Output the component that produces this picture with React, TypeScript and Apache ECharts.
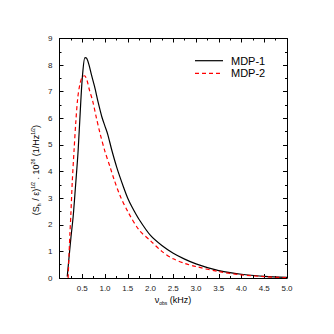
import React, { useEffect, useRef } from "react";
import * as echarts from "echarts";

const mdp1X = [0.17, 0.2, 0.25, 0.3, 0.35, 0.41, 0.47, 0.51, 0.56, 0.6, 0.65, 0.7, 0.77, 0.85, 0.93, 1.0, 1.06, 1.15, 1.26, 1.4, 1.5, 1.6, 1.75, 2.0, 2.25, 2.5, 2.75, 3.0, 3.25, 3.5, 3.75, 4.0, 4.5, 5.0];
const mdp1Y = [0.05, 0.6, 1.5, 2.3, 3.4, 4.8, 6.7, 7.7, 8.28, 8.25, 8.0, 7.65, 7.2, 6.6, 6.06, 5.7, 5.4, 4.8, 4.15, 3.45, 3.0, 2.65, 2.2, 1.6, 1.22, 0.93, 0.71, 0.53, 0.39, 0.28, 0.2, 0.14, 0.06, 0.02];
const mdp2X = [0.19, 0.21, 0.23, 0.25, 0.28, 0.32, 0.36, 0.4, 0.45, 0.5, 0.55, 0.6, 0.66, 0.73, 0.8, 0.89, 1.0, 1.11, 1.2, 1.33, 1.5, 1.75, 2.0, 2.25, 2.5, 2.75, 3.0, 3.5, 4.0, 4.5, 5.0];
const mdp2Y = [0.0, 0.9, 1.7, 2.4, 3.6, 4.8, 5.9, 6.75, 7.3, 7.55, 7.6, 7.45, 7.05, 6.65, 6.1, 5.44, 4.75, 4.18, 3.7, 3.1, 2.5, 1.8, 1.4, 1.0, 0.72, 0.55, 0.43, 0.24, 0.12, 0.05, 0.01];
const seriesNames = ["MDP-1", "MDP-2"];
const xTickLabels = ["0.5", "1.0", "1.5", "2.0", "2.5", "3.0", "3.5", "4.0", "4.5", "5.0"];

const FONT = "'Liberation Sans', Arial, sans-serif";

export default function App() {
  const ref = useRef<HTMLDivElement>(null);
  useEffect(() => {
    if (!ref.current) return;
    const chart = echarts.init(ref.current, null, { renderer: "svg" });
    const axisCommon = {
      axisLine: { show: true, onZero: false, lineStyle: { color: "#000", width: 1 } },
      axisTick: { show: true, inside: true, length: 4, lineStyle: { color: "#000", width: 1 } },
      minorTick: { show: true, splitNumber: 2, length: 2, lineStyle: { color: "#000", width: 1 } },
      splitLine: { show: false },
    };
    const xLabelFmt = (v: number) => {
      const s = v.toFixed(1);
      return xTickLabels.indexOf(s) >= 0 ? s : "";
    };
    const legendItem = (name: string, y: number, color: string, dash: number[] | null) => ({
      type: "group",
      children: [
        {
          type: "line",
          shape: { x1: 195, y1: y, x2: 223, y2: y },
          style: { stroke: color, lineWidth: 1.2, lineDash: dash || undefined },
        },
        {
          type: "text",
          x: 231,
          y: y,
          style: { text: name, fontFamily: FONT, fontSize: 11, fill: "#000", verticalAlign: "middle" },
        },
      ],
    });
    chart.setOption({
      animation: false,
      backgroundColor: "#fff",
      grid: { left: 59.5, top: 38.5, right: 47, bottom: 56 },
      xAxis: [
        {
          type: "value",
          min: 0,
          max: 5,
          interval: 0.5,
          position: "bottom",
          ...axisCommon,
          axisLabel: { fontFamily: FONT, fontSize: 8, color: "#222", margin: 6, formatter: xLabelFmt },
        },
        {
          type: "value",
          min: 0,
          max: 5,
          interval: 0.5,
          position: "top",
          ...axisCommon,
          axisLabel: { show: false },
        },
      ],
      yAxis: [
        {
          type: "value",
          min: 0,
          max: 9,
          interval: 1,
          position: "left",
          ...axisCommon,
          axisLabel: { fontFamily: FONT, fontSize: 8, color: "#222", margin: 7 },
        },
        {
          type: "value",
          min: 0,
          max: 9,
          interval: 1,
          position: "right",
          ...axisCommon,
          axisLabel: { show: false },
        },
      ],
      graphic: [
        {
          type: "text",
          x: 36,
          y: 170,
          rotation: Math.PI / 2,
          style: {
            text: "(S{sub|h} / ε){sup|1/2} . 10{sup|26} (1/Hz{sup|1/2})",
            fontFamily: FONT,
            fontSize: 9,
            fill: "#000",
            align: "center",
            verticalAlign: "middle",
            rich: {
              sub: { fontSize: 5, padding: [6, 0, 0, 0], fontFamily: FONT, fill: "#000" },
              sup: { fontSize: 5, padding: [0, 0, 7, 0], fontFamily: FONT, fill: "#000" },
            },
          },
        },
        {
          type: "text",
          x: 173,
          y: 300,
          style: {
            text: "ν{sub|obs} (kHz)",
            fontFamily: FONT,
            fontSize: 9,
            fill: "#000",
            align: "center",
            verticalAlign: "middle",
            rich: {
              sub: { fontSize: 5, padding: [6, 0, 0, 0], fontFamily: FONT, fill: "#000" },
            },
          },
        },
        legendItem(seriesNames[0], 60.7, "#000", null),
        legendItem(seriesNames[1], 73.3, "#ff0000", [4, 3]),
      ],
      series: [
        {
          name: seriesNames[0],
          type: "line",
          data: mdp1X.map((x, i) => [x, mdp1Y[i]]),
          showSymbol: false,
          symbol: "none",
          smooth: 0.3,
          lineStyle: { color: "#000", width: 1.2, type: "solid" },
          itemStyle: { color: "#000" },
        },
        {
          name: seriesNames[1],
          type: "line",
          data: mdp2X.map((x, i) => [x, mdp2Y[i]]),
          showSymbol: false,
          symbol: "none",
          smooth: 0.3,
          lineStyle: { color: "#ff0000", width: 1.2, type: [4, 3] },
          itemStyle: { color: "#ff0000" },
        },
      ],
    });
    return () => chart.dispose();
  }, []);
  return <div ref={ref} style={{ width: 334, height: 334, margin: -8 }} />;
}
